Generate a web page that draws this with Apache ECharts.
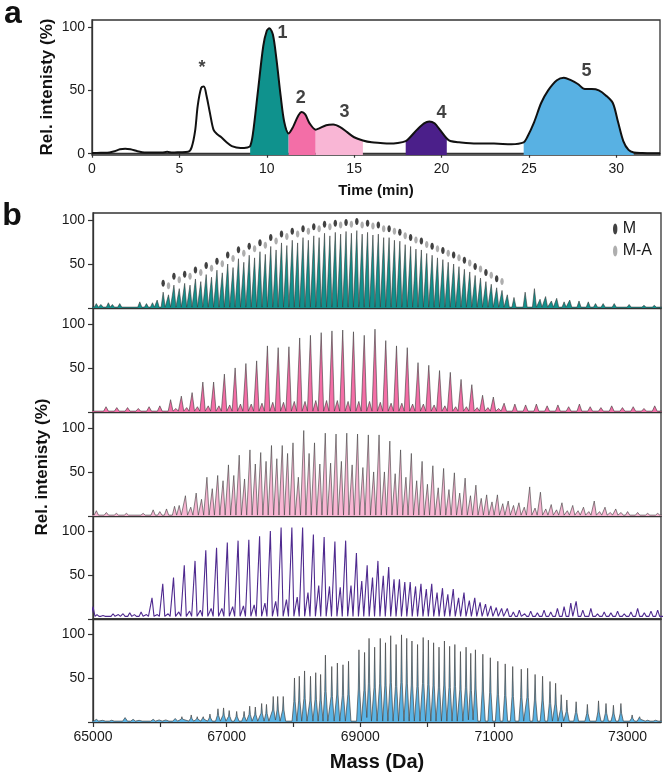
<!DOCTYPE html>
<html><head><meta charset="utf-8">
<script src="https://cdn.jsdelivr.net/npm/echarts@6/dist/echarts.min.js"></script>
<style>html,body{margin:0;padding:0;background:#fff}#c{width:663px;height:781px}</style>
</head><body><div id="c"></div>
<script>
// ---------- Panel a: chromatogram ----------
const chromTime = [0,0.5,1.0,1.3,1.6,1.9,2.2,2.6,3.0,3.5,4.0,4.3,4.6,5.0,5.5,5.7,5.9,6.05,6.25,6.4,6.55,6.75,6.95,7.15,7.4,7.7,8.0,8.5,8.9,9.05,9.2,9.5,9.8,10.0,10.15,10.35,10.55,10.8,11.0,11.25,11.5,11.8,12.0,12.2,12.45,12.8,13.0,13.4,13.8,14.2,14.6,15.0,15.5,16.0,16.5,17.0,17.5,17.95,18.2,18.6,19.0,19.3,19.6,19.9,20.3,20.5,21,22,23,24,24.7,24.9,25.3,25.7,26.1,26.6,27.0,27.4,27.8,28.2,28.6,29.0,29.4,29.8,30.1,30.4,30.7,31.0,31.5,32.0,32.5];
const chromInt  = [0.5,0.8,1,2,3.5,4,3.5,2,1,1,1,1.5,1,1.2,1.5,5,18,38,52,53,46,32,19,15.5,13,9,6,4.5,5,6,15,50,85,97,99,94,75,45,25,16,21,30,33,31,24,19,20,22.5,23,21,17,13,10.5,9,8.5,8,8.5,10,13,19,24,25.5,24,19,12,10,9,8,8,7.5,9,13,25,40,50,58,60,58,55,51,51,50,46,40,25,10,3,1,0.5,0.3,0.3];
const fractionStart = [9.05, 11.25, 12.8, 17.95, 24.7];
const fractionEnd   = [11.25, 12.8, 15.5, 20.3, 31.0];
const peakLabels    = ['*','1','2','3','4','5'];
const peakLabelTime = [6.3, 10.9, 11.95, 14.45, 20.0, 28.3];
const peakLabelInt  = [68, 95, 44, 33, 32.5, 65];
const timeTicks = [0,5,10,15,20,25,30];
const chromYTicks = [0,50,100];

// ---------- Panel b: deconvoluted mass spectra ----------
const massTicks  = [65000,66000,67000,68000,69000,70000,71000,72000,73000];
const massLabels = [65000,67000,69000,71000,73000];
const specYTicks = [0,50,100];
const specYLabels = [50,100];

// spectrum 1 (fraction 1): M and M-A series
const p1MMass = [66050,66211,66372,66533,66694,66855,67016,67177,67338,67499,67660,67821,67982,68143,68304,68465,68626,68787,68948,69109,69270,69431,69592,69753,69914,70075,70236,70397,70558,70719,70880,71041];
const p1MInt  = [18,26,28,33,38,43,50,56,60,64,70,74,77,80,82,85,86,87,88,86,84,80,76,70,66,60,55,50,44,37,30,23];
const p1MAMass = [66130,66291,66452,66613,66774,66935,67096,67257,67418,67579,67740,67901,68062,68223,68384,68545,68706,68867,69028,69189,69350,69511,69672,69833,69994,70155,70316,70477,70638,70799,70960,71121];
const p1MAInt  = [15,22,26,30,35,40,46,52,57,61,66,71,74,77,80,82,84,85,84,83,80,77,72,67,62,57,52,47,41,34,27,20];
const p1NoiseMass = [65050,65120,65230,65290,65400,65700,65800,65890,65960,71200,71300,71467,71606,71690,71773,71860,71939,72050,72134,72273,72412,72520,72634,72800,73023,73245,73400];
const p1NoiseInt  = [5,4,6,4,5,7,5,6,9,15,12,18,22,10,13,8,11,7,9,8,7,5,5,5,4,3,3];

// spectrum 2 (fraction 2)
const p2Mass = [65195,65356,65517,65678,65839,66000,66161,66322,66483,66644,66805,66966,67127,67288,67449,67610,67771,67932,68093,68254,68415,68576,68737,68898,69059,69220,69381,69542,69703,69864,70025,70186,70347,70508,70669,70830,70991,71152,71313,71474,71635,71796,71957,72118,72279,72440,72601,72762,72923,73084,73245,73406];
const p2Int  = [6,5,5,4,6,7,14,18,22,34,34,43,50,55,58,75,73,74,84,87,90,92,93,91,87,94,81,75,73,56,53,47,45,37,31,19,17,10,9,8,9,7,8,6,9,6,5,7,5,6,4,7];
const p2SubMass = [66241,66402,66563,66724,66885,67046,67207,67368,67529,67690,67851,68012,68173,68334,68495,68656,68817,68978,69139,69300,69461,69622,69783,69944,70105,70266,70427,70588,70749,70910,71071];
const p2SubInt  = [4,5,6,7,7,8,9,9,10,11,11,12,12,13,13,13,12,12,12,11,10,10,9,9,8,7,6,6,5,5,4];

// spectrum 3 (fraction 3)
const p3Mass = [66383,66544,66705,66866,67027,67188,67349,67510,67671,67832,67993,68154,68315,68476,68637,68798,68959,69120,69281,69442,69603,69764,69925,70086,70247,70408,70569,70730,70891,71052,71213,71374,71535,71696,71857,72018,72179,72340,72501,72662,72823];
const p3Int  = [23,26,44,46,58,69,75,72,80,80,83,97,83,94,93,94,93,92,92,85,75,71,62,57,54,49,43,35,24,24,17,15,33,27,13,15,12,10,17,10,8];
const p3SubMass = [66463,66624,66785,66946,67107,67268,67429,67590,67751,67912,68073,68234,68395,68556,68717,68878,69039,69200,69361,69522,69683,69844,70005,70166,70327,70488,70649,70810,70971,71132,71293,71454,71615,71776,71937,72098,72259,72420,72581,72742,72903];
const p3SubInt  = [10,19,31,40,46,42,59,62,65,71,44,71,59,60,62,58,55,50,50,48,44,40,36,32,30,26,23,20,16,14,12,10,9,8,7,6,6,5,5,4,4];
const p3NoiseMass = [65050,65200,65350,65500,65750,65900,66000,66100,66220,66290,73000,73150,73300,73450];
const p3NoiseInt  = [6,4,3,3,3,7,5,8,11,12,5,4,3,3];

// spectrum 4 (fraction 4)
const p4Mass = [65883,66044,66205,66366,66527,66688,66849,67010,67171,67332,67493,67654,67815,67976,68137,68298,68459,68620,68781,68942,69103,69264,69425,69586,69747,69908,70069,70230,70391,70552,70713,70874,71035];
const p4Int  = [24,40,47,61,66,78,81,87,89,90,94,100,104,104,104,96,93,88,89,75,61,66,59,45,42,40,40,35,34,30,24,17,13];
const p4SubMass = [65963,66124,66285,66446,66607,66768,66929,67090,67251,67412,67573,67734,67895,68056,68217,68378,68539,68700,68861,69022,69183,69344,69505,69666,69827,69988,70149,70310,70471,70632,70793,70954,71115];
const p4SubInt  = [5,6,8,9,10,12,12,14,15,16,18,20,22,25,30,38,37,36,38,43,47,49,45,42,37,34,30,28,24,21,19,15,12];
const p4NoiseMass = [65000,65060,65150,65300,65380,65450,65550,65620,65720,65800,71200,71290,71380,71460,71550,71650,71750,71850,71950,72050,72150,72230,72330,72450,72550,72650,72750,72850,72950,73050,73150,73250,73350,73450];
const p4NoiseInt  = [14,5,4,6,5,6,7,5,8,5,12,8,10,6,9,7,10,8,12,14,18,20,10,12,6,8,7,9,6,8,12,7,9,10];

// spectrum 5 (fraction 5)
const p5Mass = [66870,66954,67038,67150,67261,67345,67429,67524,67596,67697,67764,67847,68015,68087,68166,68255,68333,68406,68478,68573,68657,68741,68824,68980,69064,69131,69215,69299,69377,69455,69536,69617,69695,69773,69857,69941,70019,70097,70178,70259,70337,70415,70499,70583,70653,70723,70834,70946,71058,71169,71281,71409,71504,71616,71728,71839,71923,72007,72091,72230,72398,72565,72677,72788,72900,73068,73180];
const p5Int  = [15,16,13,12,12,18,17,21,20,29,29,29,50,52,58,52,56,54,76,63,67,65,69,82,79,95,85,95,90,98,88,99,95,92,88,96,93,90,85,92,86,88,80,85,78,82,77,73,69,66,63,60,61,54,52,46,44,31,25,23,20,24,21,19,21,8,6];
const p5NoiseMass = [65050,65150,65280,65480,65600,65700,65900,66000,66100,66230,66330,66470,66560,66650,66750,73300,73420];
const p5NoiseInt  = [3,3,2,5,3,3,3,4,4,4,6,8,6,6,9,2,2];

// ---------- helpers ----------
const FONT = "'Liberation Sans', Arial, Helvetica, sans-serif";
const pairs = (a, b) => a.map((v, i) => [v, b[i]]);
function buildSpectrum(peaks, shape, base) {
  const pk = peaks.slice().sort((a, b) => a[0] - b[0]);
  const W = shape[shape.length - 1][0];
  const prof = (x, m, h) => {
    const d = x - m;
    if (d <= shape[0][0] || d >= W) return base;
    for (let j = 1; j < shape.length; j++) {
      if (d <= shape[j][0]) {
        const [x0, f0] = shape[j - 1], [x1, f1] = shape[j];
        return base + (h - base) * (f0 + (f1 - f0) * (d - x0) / (x1 - x0));
      }
    }
    return base;
  };
  const pts = [[64900, base]];
  pk.forEach(([m, h], i) => {
    const prev = pk[i - 1], next = pk[i + 1];
    shape.forEach(([dx, f], j) => {
      const x = m + dx;
      if (j === 0 && prev && prev[0] + W > x) return;
      if (j === shape.length - 1 && next && next[0] - W < x) {
        const mid = (m + next[0]) / 2;
        pts.push([mid, Math.max(prof(mid, m, h), prof(mid, next[0], next[1]))]);
        return;
      }
      pts.push([x, base + (h - base) * f]);
    });
  });
  pts.push([73600, base]);
  return pts;
}
const tri = w => [[-w, 0], [0, 1], [w, 0]];
const spike = [[-36, 0], [-10, 0.45], [0, 1], [10, 0.45], [36, 0]];

const chromData = pairs(chromTime, chromInt);
const fracColors = ['#0f928d', '#f36ea7', '#f9b6d5', '#4b1f8a', '#58b1e3'];
const ellipse = 'path://M2,0 C3.1,0 4,2.2 4,5 C4,7.8 3.1,10 2,10 C0.9,10 0,7.8 0,5 C0,2.2 0.9,0 2,0 Z';

// ---------- layout ----------
const gridsB = [[213, 95, 108], [308, 104, 118], [412, 104, 118], [516, 103, 117], [619, 103, 117]];
const grids = [{ left: 92, top: 20, width: 568, height: 135 }]
  .concat(gridsB.map(g => ({ left: 93, top: g[0], width: 568, height: g[1] })))
  .map(g => Object.assign(g, { show: true, borderColor: '#333', borderWidth: 1.3, backgroundColor: 'transparent' }));

const axLine = { show: true, lineStyle: { color: '#333', width: 1.3 } };
const labelStyle = { fontSize: 14, color: '#1a1a1a', fontFamily: FONT };

const xAxes = [{
  type: 'value', gridIndex: 0, min: 0, max: 32.5, axisLine: axLine,
  axisTick: { show: true, customValues: timeTicks, length: 4, lineStyle: { color: '#333', width: 1.2 } },
  axisLabel: Object.assign({ customValues: timeTicks, margin: 7 }, labelStyle),
  splitLine: { show: false }
}];
const yAxes = [{
  type: 'value', gridIndex: 0, min: -1, max: 105.5, axisLine: axLine,
  axisTick: { show: true, customValues: chromYTicks, length: 4, lineStyle: { color: '#333', width: 1.2 } },
  axisLabel: Object.assign({ customValues: chromYTicks, margin: 7 }, labelStyle),
  splitLine: { show: false }
}];
gridsB.forEach((g, i) => {
  const last = i === gridsB.length - 1;
  xAxes.push({
    type: 'value', gridIndex: i + 1, min: 65000, max: 73500, axisLine: axLine,
    axisTick: { show: last, customValues: massTicks, length: 5, lineStyle: { color: '#333', width: 1.2 } },
    axisLabel: Object.assign({ show: last, customValues: massLabels, margin: 8, formatter: v => String(v) }, labelStyle),
    splitLine: { show: false }
  });
  yAxes.push({
    type: 'value', gridIndex: i + 1, min: 0, max: g[2], axisLine: axLine,
    axisTick: { show: true, customValues: specYTicks, length: 5, lineStyle: { color: '#333', width: 1.2 } },
    axisLabel: Object.assign({ customValues: specYLabels, margin: 8 }, labelStyle),
    splitLine: { show: false }
  });
});

// ---------- series ----------
const series = [];
fractionStart.forEach((s, i) => {
  series.push({
    type: 'line', xAxisIndex: 0, yAxisIndex: 0, silent: true, showSymbol: false, smooth: 0.3,
    data: chromData.filter(p => p[0] >= s - 1e-9 && p[0] <= fractionEnd[i] + 1e-9),
    lineStyle: { width: 0 }, areaStyle: { color: fracColors[i], opacity: 1, origin: 'start' }, z: 2
  });
});
series.push({
  type: 'line', xAxisIndex: 0, yAxisIndex: 0, silent: true, showSymbol: false, smooth: 0.3,
  data: chromData, lineStyle: { color: '#111', width: 2 }, z: 3
});
series.push({
  type: 'scatter', xAxisIndex: 0, yAxisIndex: 0, silent: true, symbolSize: 0,
  data: peakLabels.map((t, i) => ({ value: [peakLabelTime[i], peakLabelInt[i]], name: t })),
  label: { show: true, position: 'inside', formatter: p => p.name, fontSize: 18, fontWeight: 'bold', color: '#111', fontFamily: FONT }, z: 4
});

const specLine = { color: '#3a3a3a', width: 0.6 };
series.push({
  type: 'line', xAxisIndex: 1, yAxisIndex: 1, silent: true, showSymbol: false,
  data: buildSpectrum(pairs(p1MMass, p1MInt).concat(pairs(p1MAMass, p1MAInt), pairs(p1NoiseMass, p1NoiseInt)), tri(30), 1),
  lineStyle: specLine, areaStyle: { color: '#12908c', opacity: 1, origin: 'start' }, z: 2
});
series.push({
  name: 'M', type: 'scatter', xAxisIndex: 1, yAxisIndex: 1, silent: true,
  data: pairs(p1MMass, p1MInt), symbol: ellipse, symbolSize: [3.5, 7], symbolOffset: [0, -9],
  itemStyle: { color: '#111' }, z: 5
});
series.push({
  name: 'M-A', type: 'scatter', xAxisIndex: 1, yAxisIndex: 1, silent: true,
  data: pairs(p1MAMass, p1MAInt), symbol: ellipse, symbolSize: [3.5, 7], symbolOffset: [0, -9],
  itemStyle: { color: '#9a9a9a' }, z: 5
});
series.push({
  type: 'line', xAxisIndex: 2, yAxisIndex: 2, silent: true, showSymbol: false,
  data: buildSpectrum(pairs(p2Mass, p2Int).concat(pairs(p2SubMass, p2SubInt)), tri(36), 1),
  lineStyle: specLine, areaStyle: { color: '#f46fa7', opacity: 1, origin: 'start' }, z: 2
});
series.push({
  type: 'line', xAxisIndex: 3, yAxisIndex: 3, silent: true, showSymbol: false,
  data: buildSpectrum(pairs(p3Mass, p3Int).concat(pairs(p3SubMass, p3SubInt), pairs(p3NoiseMass, p3NoiseInt)), tri(32), 1),
  lineStyle: specLine, areaStyle: { color: '#f8b6d3', opacity: 1, origin: 'start' }, z: 2
});
series.push({
  type: 'line', xAxisIndex: 4, yAxisIndex: 4, silent: true, showSymbol: false,
  data: buildSpectrum(pairs(p4Mass, p4Int).concat(pairs(p4SubMass, p4SubInt), pairs(p4NoiseMass, p4NoiseInt)), tri(30), 3),
  lineStyle: { color: '#4f2a8f', width: 1.1 }, z: 2
});
series.push({
  type: 'line', xAxisIndex: 5, yAxisIndex: 5, silent: true, showSymbol: false,
  data: buildSpectrum(pairs(p5Mass, p5Int).concat(pairs(p5NoiseMass, p5NoiseInt)), spike, 1),
  lineStyle: { color: '#444', width: 0.7 }, areaStyle: { color: '#5ab3e4', opacity: 1, origin: 'start' }, z: 2
});

const txt = (x, y, text, size, extra) => ({
  type: 'text', x, y, silent: true, rotation: (extra && extra.rot) || 0,
  style: { text, font: 'bold ' + size + 'px ' + FONT, fill: '#111', align: 'center', verticalAlign: 'middle' }
});

const chart = echarts.init(document.getElementById('c'), null, { renderer: 'canvas' });
chart.setOption({
  animation: false,
  backgroundColor: '#fff',
  grid: grids, xAxis: xAxes, yAxis: yAxes, series,
  legend: {
    data: [{ name: 'M', icon: ellipse }, { name: 'M-A', icon: ellipse }],
    orient: 'vertical', left: 608, top: 216, itemWidth: 5, itemHeight: 11, itemGap: 6,
    selectedMode: false, textStyle: { fontSize: 16, color: '#1a1a1a', fontFamily: FONT }
  },
  graphic: [
    txt(13, 14, 'a', 32),
    txt(12, 216, 'b', 32),
    txt(376, 191, 'Time (min)', 15),
    txt(377, 762, 'Mass (Da)', 20),
    txt(47, 87, 'Rel. intenisty (%)', 17, { rot: Math.PI / 2 }),
    txt(42, 467, 'Rel. intenisty (%)', 17, { rot: Math.PI / 2 })
  ]
});
</script></body></html>
